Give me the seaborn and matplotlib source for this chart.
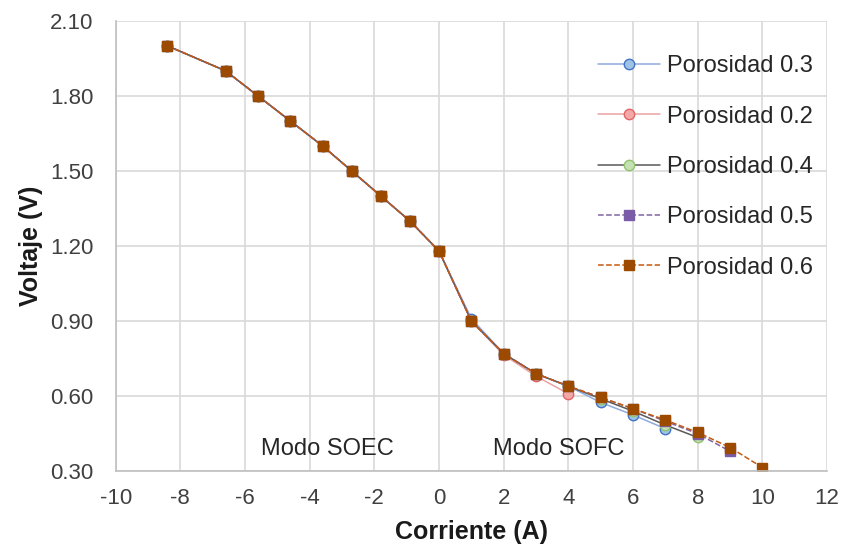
import numpy as np
import pandas as pd
import matplotlib.pyplot as plt
import seaborn as sns

# shared electrolysis side (SOEC)
x_soec = [-8.4, -6.6, -5.6, -4.6, -3.6, -2.7, -1.8, -0.9, 0]
v_soec = [2.00, 1.90, 1.80, 1.70, 1.60, 1.50, 1.40, 1.30, 1.18]

# fuel cell side (SOFC), one list per porosity
v_p03 = [0.91, 0.77, 0.69, 0.64, 0.575, 0.525, 0.47]
v_p02 = [0.90, 0.765, 0.68, 0.61]
v_p04 = [0.90, 0.77, 0.69, 0.64, 0.59, 0.54, 0.485, 0.435]
v_p05 = [0.90, 0.77, 0.69, 0.64, 0.595, 0.55, 0.50, 0.45, 0.38]
v_p06 = [0.90, 0.77, 0.69, 0.64, 0.595, 0.55, 0.505, 0.455, 0.395, 0.315]

labels = ["Porosidad 0.3", "Porosidad 0.2", "Porosidad 0.4",
          "Porosidad 0.5", "Porosidad 0.6"]
sofc = [v_p03, v_p02, v_p04, v_p05, v_p06]

sns.set_theme(style="whitegrid")
plt.rcParams["font.family"] = ["Liberation Sans", "DejaVu Sans"]
plt.rcParams["axes.unicode_minus"] = False

styles = [
    dict(color="#8FAADC", marker="o", ls="-", mfc="#9DC3E6", mec="#4472C4", ms=7.5),
    dict(color="#EBA3A3", marker="o", ls="-", mfc="#F4A7A7", mec="#E06666", ms=7.5),
    dict(color="#595959", marker="o", ls="-", mfc="#C5E0B4", mec="#92C46E", ms=7.5),
    dict(color="#8064A2", marker="s", ls="--", mfc="#7A5BA8", mec="#7A5BA8", ms=6.5),
    dict(color="#C55A11", marker="s", ls="--", mfc="#9C4A00", mec="#9C4A00", ms=6.5),
]

fig, ax = plt.subplots(figsize=(8.44, 5.48), dpi=100)
fig.subplots_adjust(left=0.137, right=0.980, top=0.962, bottom=0.140)

for lab, vals, st in zip(labels, sofc, styles):
    xs = x_soec + list(range(1, len(vals) + 1))
    ys = v_soec + vals
    sns.lineplot(x=xs, y=ys, ax=ax, label=lab, color=st["color"],
                 linestyle=st["ls"], linewidth=1.1, marker=st["marker"],
                 markersize=st["ms"], markerfacecolor=st["mfc"],
                 markeredgecolor=st["mec"], markeredgewidth=1.0,
                 sort=False, estimator=None)

ax.set_xlim(-10, 12)
ax.set_ylim(0.30, 2.10)
ax.set_xticks(np.arange(-10, 13, 2))
ax.set_yticks(np.arange(0.30, 2.11, 0.30))
ax.set_yticklabels([f"{v:.2f}" for v in np.arange(0.30, 2.11, 0.30)])
ax.grid(True, color="#D9D9D9", linewidth=1.2)
for side in ["top", "right"]:
    ax.spines[side].set_visible(False)
for side in ["left", "bottom"]:
    ax.spines[side].set_color("#BFBFBF")
    ax.spines[side].set_linewidth(1.2)
ax.tick_params(axis="both", length=0, labelsize=16, labelcolor="#404040")
ax.tick_params(axis="y", pad=16)
ax.tick_params(axis="x", pad=12)

ax.set_xlabel("Corriente (A)", fontsize=18, fontweight="bold", color="#1a1a1a", labelpad=8)
ax.set_ylabel("Voltaje (V)", fontsize=18, fontweight="bold", color="#1a1a1a", labelpad=5)

ax.text(-3.45, 0.39, "Modo SOEC", fontsize=17, color="#262626", ha="center", va="center")
ax.text(3.7, 0.39, "Modo SOFC", fontsize=17, color="#262626", ha="center", va="center")

leg = ax.legend(loc="upper right", bbox_to_anchor=(1.0, 0.955), frameon=False,
                fontsize=17, labelspacing=1.2, handlelength=2.6,
                handletextpad=0.3, borderaxespad=0.2)
for t in leg.get_texts():
    t.set_color("#262626")

fig.savefig("out.png", dpi=100)
